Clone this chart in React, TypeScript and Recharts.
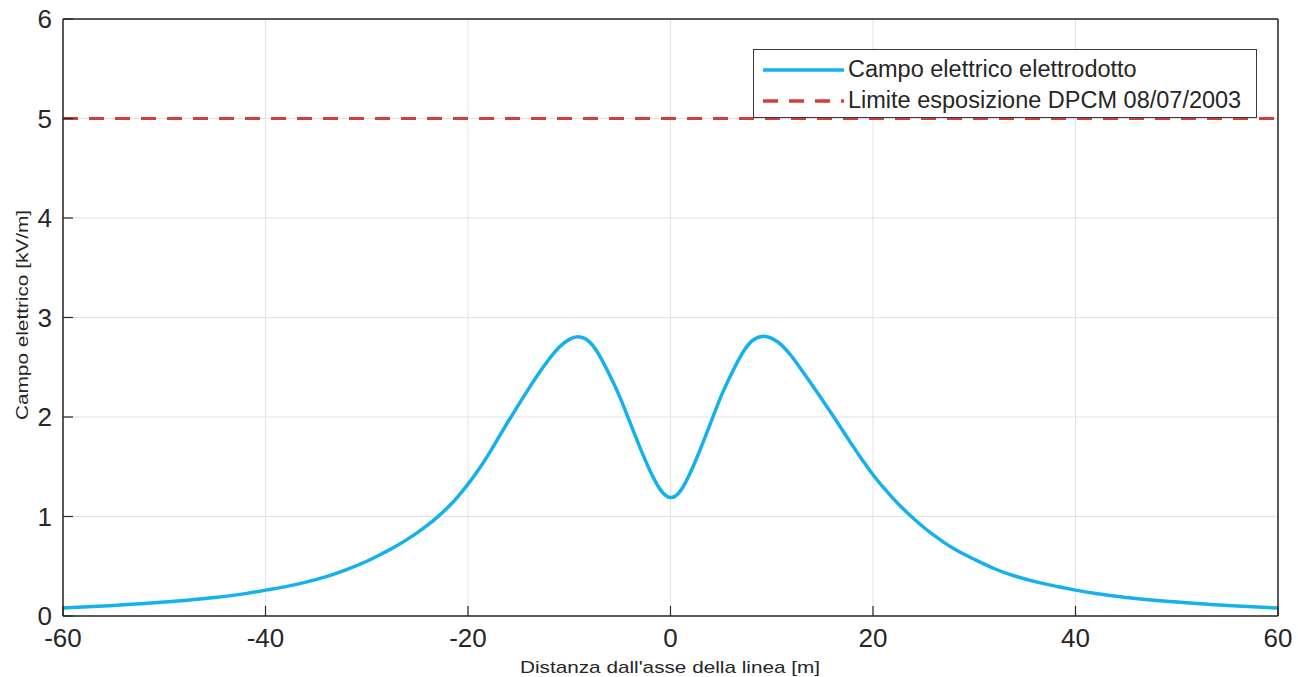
import React, { useLayoutEffect } from "react";
import { LineChart, Line, XAxis, YAxis, CartesianGrid, Legend } from "recharts";

const distances = [
  -60, -58, -55, -52, -50, -48, -45, -42, -40, -38, -36, -34, -32, -30, -29, -28, -27, -26, -25, -24, -23, -22, -21,
  -20, -19, -18, -17, -16, -15, -14, -13, -12, -11, -10, -9, -8, -7, -6, -5, -4, -3, -2, -1, 0, 1, 2, 3, 4, 5, 6, 7,
  8, 9, 10, 11, 12, 13, 14, 15, 16, 17, 18, 19, 20, 21, 22, 23, 24, 25, 26, 27, 28, 29, 30, 32, 34, 36, 38, 40, 42,
  45, 48, 50, 52, 55, 58, 60,
];
const fieldValues = [
  0.08, 0.09, 0.105, 0.125, 0.14, 0.155, 0.185, 0.225, 0.26, 0.295, 0.34, 0.395, 0.465, 0.55, 0.6, 0.652, 0.708, 0.77,
  0.838, 0.913, 0.997, 1.09, 1.2, 1.325, 1.465, 1.62, 1.79, 1.96, 2.125, 2.285, 2.44, 2.58, 2.7, 2.78, 2.805, 2.755,
  2.615, 2.42, 2.2, 1.945, 1.69, 1.455, 1.27, 1.19, 1.26, 1.45, 1.69, 1.95, 2.21, 2.43, 2.625, 2.76, 2.81, 2.79, 2.72,
  2.605, 2.465, 2.32, 2.17, 2.02, 1.865, 1.71, 1.56, 1.42, 1.295, 1.18, 1.075, 0.98, 0.892, 0.812, 0.74, 0.676, 0.62,
  0.57, 0.475, 0.402, 0.345, 0.3, 0.26, 0.226, 0.186, 0.156, 0.14, 0.125, 0.105, 0.09, 0.08,
];
const limitValue = 5;
const xTicks = [-60, -40, -20, 0, 20, 40, 60];
const yTicks = [0, 1, 2, 3, 4, 5, 6];
const seriesNames = ["Campo elettrico elettrodotto", "Limite esposizione DPCM 08/07/2003"];
const xLabel = "Distanza dall'asse della linea [m]";
const yLabel = "Campo elettrico [kV/m]";

const table = distances.map((d, i) => ({ x: d, field: fieldValues[i], limit: limitValue }));

const FONT = "'Liberation Sans', Arial, Helvetica, sans-serif";
const AX = "#262626";
const BLUE = "#14b1ec";
const RED = "#cf3f3c";

const LegendBox = (props: any) => {
  const payload = props.payload || [];
  return (
    <div
      style={{
        width: 504,
        height: 69,
        border: "1px solid #3a3a3a",
        background: "#fff",
        boxSizing: "border-box",
        paddingTop: 4,
        fontFamily: FONT,
        fontSize: 23.5,
        color: AX,
      }}
    >
      {payload.map((p: any, i: number) => (
        <div key={i} style={{ display: "flex", alignItems: "center", height: 31 }}>
          <svg width={94} height={10}>
            <line
              x1={9}
              x2={90}
              y1={5}
              y2={5}
              stroke={p.color}
              strokeWidth={3.5}
              strokeDasharray={i === 1 ? "15 11" : undefined}
            />
          </svg>
          <span style={{ whiteSpace: "nowrap", lineHeight: "31px" }}>{p.value}</span>
        </div>
      ))}
    </div>
  );
};

export default function App() {
  useLayoutEffect(() => {
    document.body.style.margin = "0";
  }, []);
  return (
    <div style={{ width: 1298, height: 677, position: "relative" }}>
      <LineChart
        width={1298}
        height={677}
        data={table}
        margin={{ top: 18, right: 19, bottom: 0, left: 0 }}
      >
        <CartesianGrid stroke="#e1e1e1" strokeWidth={1} />
        <XAxis
          dataKey="x"
          type="number"
          domain={[-60, 60]}
          ticks={xTicks}
          allowDataOverflow
          height={61}
          tickSize={-10}
          tickMargin={23}
          axisLine={{ stroke: AX, strokeWidth: 1.5 }}
          tickLine={{ stroke: AX, strokeWidth: 1.2 }}
          tick={{ fill: AX, fontSize: 26, fontFamily: FONT }}
          interval={0}
        />
        <XAxis
          xAxisId="top"
          orientation="top"
          dataKey="x"
          type="number"
          domain={[-60, 60]}
          ticks={xTicks}
          height={1}
          tickSize={-10}
          tick={false}
          axisLine={{ stroke: AX, strokeWidth: 1.5 }}
          tickLine={{ stroke: AX, strokeWidth: 1.2 }}
        />
        <YAxis
          type="number"
          domain={[0, 6]}
          ticks={yTicks}
          width={63}
          tickSize={-10}
          tickMargin={21}
          axisLine={{ stroke: AX, strokeWidth: 1.5 }}
          tickLine={{ stroke: AX, strokeWidth: 1.2 }}
          tick={{ fill: AX, fontSize: 26, fontFamily: FONT }}
          interval={0}
        />
        <YAxis
          yAxisId="right"
          orientation="right"
          type="number"
          domain={[0, 6]}
          ticks={yTicks}
          width={1}
          tickSize={-10}
          tick={false}
          axisLine={{ stroke: AX, strokeWidth: 1.5 }}
          tickLine={{ stroke: AX, strokeWidth: 1.2 }}
        />
        <Line
          dataKey="field"
          name={seriesNames[0]}
          type="natural"
          stroke={BLUE}
          strokeWidth={3.5}
          dot={false}
          isAnimationActive={false}
        />
        <Line
          dataKey="limit"
          name={seriesNames[1]}
          type="linear"
          stroke={RED}
          strokeWidth={3}
          strokeDasharray="15 11"
          dot={false}
          isAnimationActive={false}
        />
        <Legend
          layout="horizontal"
          verticalAlign="middle"
          align="center"
          content={<LegendBox />}
          wrapperStyle={{ position: "absolute", left: 753, top: 49, width: 504, height: 69 }}
        />
        <text
          x={670}
          y={673}
          textAnchor="middle"
          fontFamily={FONT}
          fontSize={17}
          fill={AX}
          textLength={300}
          lengthAdjust="spacingAndGlyphs"
        >
          {xLabel}
        </text>
        <text
          x={0}
          y={0}
          transform="translate(28 315) rotate(-90)"
          textAnchor="middle"
          fontFamily={FONT}
          fontSize={17}
          fill={AX}
          textLength={210}
          lengthAdjust="spacingAndGlyphs"
        >
          {yLabel}
        </text>
      </LineChart>
    </div>
  );
}
